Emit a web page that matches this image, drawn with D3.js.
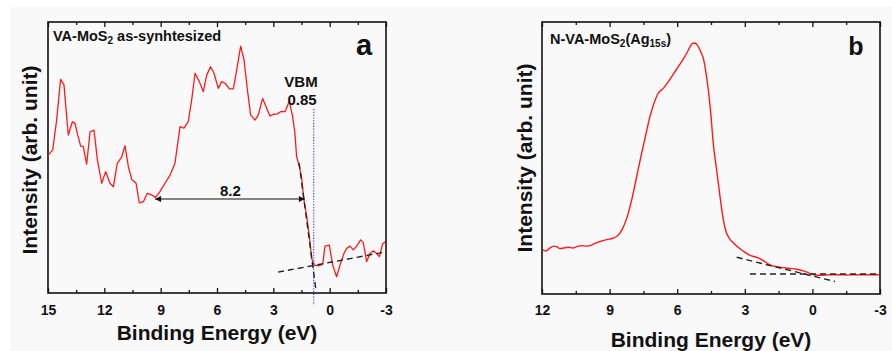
<!DOCTYPE html>
<html>
<head>
<meta charset="utf-8">
<script src="https://cdn.jsdelivr.net/npm/d3@7"></script>
<style>
  html, body { margin: 0; padding: 0; background: #ffffff; }
  svg { display: block; }
  text { font-family: "Liberation Sans", Arial, sans-serif; font-weight: bold; fill: #111; }
</style>
</head>
<body>
<svg id="chart" width="892" height="351"></svg>
<script>
// ---------------- DATA ----------------
// Panel a: VA-MoS2 as-synthesized (binding energy eV, intensity a.u.)
const energyA = [14.98,14.75,14.54,14.33,14.15,13.92,13.70,13.56,13.44,13.26,13.12,12.94,12.76,12.55,12.37,12.14,11.93,11.70,11.52,11.31,11.08,10.90,10.72,10.54,10.31,10.14,9.92,9.71,9.48,9.27,9.04,8.77,8.50,8.24,7.97,7.76,7.53,7.35,7.17,6.94,6.73,6.55,6.34,6.16,5.93,5.75,5.57,5.34,5.13,4.95,4.74,4.56,4.38,4.21,3.98,3.80,3.57,3.35,3.18,3.00,2.79,2.61,2.38,2.15,1.97,1.85,1.76,1.61,1.49,1.37,1.22,1.08,0.96,0.82,0.60,0.37,0.25,0.02,-0.16,-0.37,-0.55,-0.76,-0.91,-1.08,-1.26,-1.44,-1.65,-1.79,-1.97,-2.15,-2.33,-2.50,-2.65,-2.82,-2.95];
const intensityA = [50.9,52.8,63.8,78.8,76.8,58.3,63.2,62.6,58.9,54.2,54.0,47.6,59.5,60.1,49.1,40.5,44.8,40.5,39.2,47.8,50.1,54.4,46.6,41.9,40.5,33.3,33.7,36.8,36.2,35.3,37.4,40.5,43.5,47.8,61.4,60.8,63.2,71.2,81.1,78.0,74.3,80.4,83.5,81.1,75.5,78.0,77.4,75.3,75.3,82.3,91.1,86.0,74.9,65.7,63.8,65.7,71.8,68.1,65.3,65.9,66.1,66.9,66.9,70.8,65.1,58.9,50.3,46.6,42.3,34.3,28.2,20.8,12.8,10.3,10.0,10.6,17.3,17.7,10.3,6.0,10.3,14.6,16.5,17.3,15.9,17.3,19.6,18.6,11.6,14.6,15.6,14.6,13.4,18.1,18.9];

// Panel a annotations
const vbmA = 0.85;
const vbmLineI = [67.9, -4.5];
const tangentSteepA = [[1.63, 48.0], [0.73, 1.1]];
const tangentBaseA = [[2.75, 7.7], [-2.94, 15.1]];
const gapArrowA = { from: 9.30, to: 1.32, level: 34.7, label: "8.2" };

// Panel b: N-VA-MoS2(Ag15s)
const energyB = [11.97,11.82,11.67,11.47,11.35,11.20,11.05,10.83,10.64,10.46,10.24,10.02,9.80,9.57,9.35,9.13,8.86,8.66,8.46,8.24,8.02,7.80,7.58,7.38,7.21,7.03,6.84,6.62,6.39,6.17,5.95,5.76,5.58,5.43,5.31,5.20,5.06,4.96,4.84,4.72,4.62,4.51,4.40,4.25,4.10,3.95,3.83,3.69,3.48,3.24,2.99,2.77,2.47,2.18,1.88,1.59,1.29,0.99,0.70,0.40,0.11,-0.12,-0.34,-0.63,-0.93,-1.22,-1.52,-1.82,-2.11,-2.41,-2.70,-2.97];
const intensityB = [16.2,15.8,16.8,17.6,17.4,16.7,16.9,17.2,16.9,17.4,17.8,17.6,18.0,18.9,19.5,20.0,20.5,21.3,23.5,27.8,34.6,43.1,51.7,59.1,65.2,70.1,73.8,75.6,78.1,80.8,83.6,86.0,88.5,90.9,92.2,92.2,90.9,89.1,86.6,81.1,75.0,66.4,55.4,45.6,35.8,27.2,22.9,20.5,18.6,16.8,15.3,14.2,13.5,12.3,10.7,10.0,9.7,9.4,9.1,8.5,7.6,7.0,6.9,7.0,7.1,7.1,7.0,7.1,7.1,7.1,7.1,7.1];

const tangentSlopeB = [[3.36, 13.5], [-1.00, 4.6]];
const tangentBaseB = [[2.77, 7.35], [-2.96, 7.35]];

// Axis ticks
const majorTicksA = [15, 12, 9, 6, 3, 0, -3];
const minorTicksA = [13.5, 10.5, 7.5, 4.5, 1.5, -1.5];
const majorTicksB = [12, 9, 6, 3, 0, -3];
const minorTicksB = [10.5, 7.5, 4.5, 1.5, -1.5];

// ---------------- DRAW ----------------
const svg = d3.select("#chart");
svg.append("rect").attr("x", 10).attr("y", 7).attr("width", 882).attr("height", 344).attr("fill", "#f9f9f9");

function panel(opts) {
  const { x, y, ticksMaj, ticksMin, labelPad } = opts;
  const [x0, x1] = x.range();
  const [yb, yt] = y.range();
  const g = svg.append("g");

  // inward ticks, bottom
  const axB = g.append("g").attr("transform", `translate(0,${yb})`)
    .call(d3.axisBottom(x).tickValues(ticksMaj).tickSize(-5).tickPadding(labelPad).tickFormat(d => String(d)));
  axB.select(".domain").remove();
  axB.selectAll("line").attr("stroke", "#111").attr("stroke-width", 1.3);
  axB.selectAll("text").attr("font-size", 14).attr("fill", "#111")
    .style("font-family", '"Liberation Sans", Arial, sans-serif').style("font-weight", "bold");
  const axBm = g.append("g").attr("transform", `translate(0,${yb})`)
    .call(d3.axisBottom(x).tickValues(ticksMin).tickSize(-3).tickFormat(""));
  axBm.select(".domain").remove();
  axBm.selectAll("line").attr("stroke", "#111").attr("stroke-width", 1.3);

  // inward ticks, top
  const axT = g.append("g").attr("transform", `translate(0,${yt})`)
    .call(d3.axisTop(x).tickValues(ticksMaj).tickSize(-5).tickFormat(""));
  axT.select(".domain").remove();
  axT.selectAll("line").attr("stroke", "#111").attr("stroke-width", 1.3);
  const axTm = g.append("g").attr("transform", `translate(0,${yt})`)
    .call(d3.axisTop(x).tickValues(ticksMin).tickSize(-3).tickFormat(""));
  axTm.select(".domain").remove();
  axTm.selectAll("line").attr("stroke", "#111").attr("stroke-width", 1.3);

  // frame
  g.append("rect").attr("x", x0).attr("y", yt).attr("width", x1 - x0).attr("height", yb - yt)
    .attr("fill", "none").attr("stroke", "#111").attr("stroke-width", 1.6);
  return g;
}

function dashed(g, x, y, pts) {
  g.append("path")
    .attr("d", d3.line().x(d => x(d[0])).y(d => y(d[1]))(pts))
    .attr("fill", "none").attr("stroke", "#222").attr("stroke-width", 1.4)
    .attr("stroke-dasharray", "6,4");
}

// ---- Panel a ----
const xA = d3.scaleLinear().domain([15, -3]).range([48, 386]);
const yA = d3.scaleLinear().domain([0, 100]).range([293, 22]);
const gA = panel({ x: xA, y: yA, ticksMaj: majorTicksA, ticksMin: minorTicksA, labelPad: 12 });

const dataA = energyA.map((e, i) => [e, intensityA[i]]);
gA.append("path")
  .attr("d", d3.line().x(d => xA(d[0])).y(d => yA(d[1]))(dataA))
  .attr("fill", "none").attr("stroke", "#ff1a1a").attr("stroke-width", 1.3).attr("stroke-linejoin", "round");

dashed(gA, xA, yA, tangentSteepA);
dashed(gA, xA, yA, tangentBaseA);

gA.append("line")
  .attr("x1", xA(vbmA)).attr("x2", xA(vbmA))
  .attr("y1", yA(vbmLineI[0])).attr("y2", yA(vbmLineI[1]))
  .attr("stroke", "#2a2aff").attr("stroke-width", 1.1).attr("stroke-dasharray", "1.2,1.6");

// double arrow
const defs = svg.append("defs");
defs.append("marker").attr("id", "arrEnd").attr("viewBox", "0 0 10 10").attr("refX", 10).attr("refY", 5)
  .attr("markerWidth", 9).attr("markerHeight", 6).attr("markerUnits", "userSpaceOnUse").attr("orient", "auto")
  .append("path").attr("d", "M0,0 L10,5 L0,10 Z").attr("fill", "#111");
defs.append("marker").attr("id", "arrStart").attr("viewBox", "0 0 10 10").attr("refX", 0).attr("refY", 5)
  .attr("markerWidth", 9).attr("markerHeight", 6).attr("markerUnits", "userSpaceOnUse").attr("orient", "auto")
  .append("path").attr("d", "M10,0 L0,5 L10,10 Z").attr("fill", "#111");
gA.append("line")
  .attr("x1", xA(gapArrowA.from)).attr("x2", xA(gapArrowA.to))
  .attr("y1", yA(gapArrowA.level)).attr("y2", yA(gapArrowA.level))
  .attr("stroke", "#111").attr("stroke-width", 1.1)
  .attr("marker-start", "url(#arrStart)").attr("marker-end", "url(#arrEnd)");
gA.append("text").attr("x", xA((gapArrowA.from + gapArrowA.to) / 2) + 0.5).attr("y", yA(gapArrowA.level) - 3)
  .attr("text-anchor", "middle").attr("font-size", 15).text(gapArrowA.label);

gA.append("text").attr("x", 301).attr("y", 87).attr("text-anchor", "middle").attr("font-size", 15).text("VBM");
gA.append("text").attr("x", 302).attr("y", 105).attr("text-anchor", "middle").attr("font-size", 15).text(String(vbmA));

const tA = gA.append("text").attr("x", 53).attr("y", 41).attr("font-size", 14.5);
tA.append("tspan").text("VA-MoS");
tA.append("tspan").attr("font-size", 10).attr("dy", 3).text("2");
tA.append("tspan").attr("dy", -3).text(" as-synhtesized");

gA.append("text").attr("x", 364).attr("y", 55).attr("text-anchor", "middle").attr("font-size", 29).text("a");

gA.append("text").attr("x", 217).attr("y", 340).attr("text-anchor", "middle").attr("font-size", 21).text("Binding Energy (eV)");
gA.append("text").attr("transform", "translate(37,160) rotate(-90)").attr("text-anchor", "middle")
  .attr("font-size", 21).text("Intensity (arb. unit)");

// ---- Panel b ----
const xB = d3.scaleLinear().domain([12, -3]).range([542, 880]);
const yB = d3.scaleLinear().domain([0, 100]).range([294, 22]);
const gB = panel({ x: xB, y: yB, ticksMaj: majorTicksB, ticksMin: minorTicksB, labelPad: 11 });

const dataB = energyB.map((e, i) => [e, intensityB[i]]);
gB.append("path")
  .attr("d", d3.line().curve(d3.curveMonotoneX).x(d => xB(d[0])).y(d => yB(d[1]))(dataB.slice().reverse()))
  .attr("fill", "none").attr("stroke", "#ff1a1a").attr("stroke-width", 1.4).attr("stroke-linejoin", "round");

dashed(gB, xB, yB, tangentSlopeB);
dashed(gB, xB, yB, tangentBaseB);

const tB = gB.append("text").attr("x", 550).attr("y", 44).attr("font-size", 14.5);
tB.append("tspan").text("N-VA-MoS");
tB.append("tspan").attr("font-size", 10).attr("dy", 3).text("2");
tB.append("tspan").attr("dy", -3).text("(Ag");
tB.append("tspan").attr("font-size", 10).attr("dy", 3).text("15s");
tB.append("tspan").attr("dy", -3).text(")");

gB.append("text").attr("x", 856).attr("y", 55).attr("text-anchor", "middle").attr("font-size", 25).text("b");

gB.append("text").attr("x", 711).attr("y", 347).attr("text-anchor", "middle").attr("font-size", 21).text("Binding Energy (eV)");
gB.append("text").attr("transform", "translate(532,158) rotate(-90)").attr("text-anchor", "middle")
  .attr("font-size", 21).text("Intensity (arb. unit)");
</script>
</body>
</html>
